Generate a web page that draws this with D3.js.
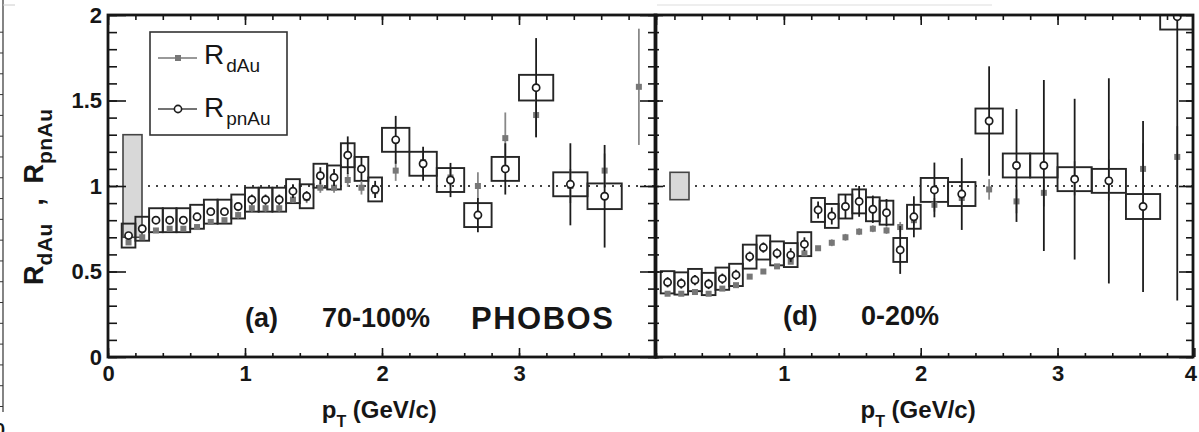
<!DOCTYPE html>
<html>
<head>
<meta charset="utf-8">
<script src="https://cdn.jsdelivr.net/npm/d3@7"></script>
<style>
  body { margin: 0; background: #fff; }
  svg { display: block; font-family: "Liberation Sans", Arial, Helvetica, sans-serif; }
</style>
</head>
<body>
<svg width="1199" height="432"></svg>
<script>
// pT bin edges (GeV/c), shared by both panels
var ptEdges = [0.1, 0.2, 0.3, 0.4, 0.5, 0.6, 0.7, 0.8, 0.9, 1.0, 1.1, 1.2, 1.3, 1.4, 1.5,
               1.6, 1.7, 1.8, 1.9, 2.0, 2.2, 2.4, 2.6, 2.8, 3.0, 3.25, 3.5, 3.75, 4.0];

// (a) 70-100%
var pnAuA    = [0.71, 0.75, 0.80, 0.80, 0.80, 0.82, 0.85, 0.85, 0.88, 0.92, 0.92, 0.92, 0.97, 0.94,
                1.06, 1.05, 1.18, 1.10, 0.98, 1.27, 1.13, 1.035, 0.83, 1.10, 1.575, 1.01, 0.94, null];
var pnAuAErr = [0.02, 0.02, 0.02, 0.02, 0.02, 0.02, 0.02, 0.02, 0.02, 0.03, 0.03, 0.03, 0.04, 0.03,
                0.05, 0.05, 0.11, 0.07, 0.05, 0.14, 0.10, 0.10, 0.10, 0.15, 0.29, 0.24, 0.30, null];
var pnAuASys = [0.07, 0.07, 0.07, 0.07, 0.07, 0.07, 0.07, 0.07, 0.07, 0.07, 0.07, 0.07, 0.07, 0.07,
                0.07, 0.07, 0.07, 0.07, 0.07, 0.07, 0.07, 0.07, 0.07, 0.07, 0.075, 0.07, 0.075, null];
var dAuA     = [0.67, 0.70, 0.74, 0.75, 0.75, 0.76, 0.79, 0.80, 0.83, 0.87, 0.87, 0.87, 0.92, 0.93,
                0.99, 0.99, 1.035, 0.99, 0.97, 1.09, 1.14, 1.05, 1.00, 1.28, 1.415, 1.00, 1.09, 1.58];
var dAuAErr  = [0.01, 0.01, 0.01, 0.01, 0.01, 0.01, 0.01, 0.01, 0.02, 0.02, 0.02, 0.02, 0.02, 0.03,
                0.03, 0.03, 0.04, 0.04, 0.04, 0.06, 0.06, 0.05, 0.08, 0.15, 0.13, 0.10, 0.10, 0.34];
var normA = 0.30;

// (d) 0-20%
var pnAuD    = [0.437, 0.43, 0.45, 0.427, 0.458, 0.48, 0.587, 0.64, 0.606, 0.596, 0.66, 0.86, 0.825, 0.88,
                0.91, 0.864, 0.844, 0.626, 0.82, 0.977, 0.953, 1.38, 1.12, 1.12, 1.04, 1.03, 0.88, 1.99];
var pnAuDErr = [0.03, 0.03, 0.03, 0.03, 0.03, 0.03, 0.03, 0.03, 0.03, 0.04, 0.04, 0.05, 0.05, 0.07,
                0.09, 0.08, 0.08, 0.14, 0.12, 0.16, 0.21, 0.32, 0.33, 0.50, 0.47, 0.60, 0.50, 1.66];
var pnAuDSys = [0.065, 0.065, 0.065, 0.065, 0.065, 0.065, 0.07, 0.07, 0.07, 0.07, 0.07, 0.07, 0.07, 0.07,
                0.07, 0.07, 0.07, 0.07, 0.07, 0.07, 0.07, 0.073, 0.07, 0.07, 0.07, 0.07, 0.073, 0.075];
var dAuD     = [0.37, 0.37, 0.38, 0.37, 0.40, 0.42, 0.47, 0.50, 0.53, 0.557, 0.606, 0.636, 0.668, 0.70,
                0.733, 0.75, 0.74, 0.76, 0.80, 0.89, 0.93, 0.98, 0.91, 0.96, 1.045, 1.035, 1.10, 1.17];
var dAuDErr  = [0.01, 0.01, 0.01, 0.01, 0.01, 0.01, 0.01, 0.01, 0.01, 0.01, 0.01, 0.01, 0.02, 0.02,
                0.02, 0.02, 0.02, 0.03, 0.03, 0.04, 0.05, 0.06, 0.07, 0.08, 0.10, 0.12, 0.15, 0.18];
var normD = 0.08;

var yMajorTicks = [0, 0.5, 1, 1.5, 2];

var svg = d3.select('svg'),
    y = d3.scaleLinear().domain([0, 2]).range([357, 15]),
    xA = d3.scaleLinear().domain([0, 4]).range([108, 656]),
    xD = d3.scaleLinear().domain([0.058, 3.99]).range([655, 1193]),
    fmt = d3.format('~g'),
    ink = '#161616';

var bins = ptEdges.slice(0, -1).map(function(lo, i) {
  return { lo: lo, hi: ptEdges[i + 1], mid: (lo + ptEdges[i + 1]) / 2 };
});

// decoration left over from the neighbouring figure at the page edge
var edge = d3.scaleLinear().domain([0, 18]).range([406, 31.7]);
svg.append('line').attr('x1', 3).attr('x2', 3).attr('y1', 0).attr('y2', 412)
   .attr('stroke', '#333').attr('stroke-width', 1.2);
svg.append('g').attr('transform', 'translate(3,0)')
   .call(d3.axisLeft(edge).ticks(18).tickSize(3).tickFormat(''))
   .call(function(g) { g.select('.domain').remove(); g.selectAll('line').attr('stroke', '#333'); });
svg.append('text').attr('x', -5).attr('y', 436).attr('font-size', 18).attr('font-weight', 'bold')
   .attr('fill', ink).text('0');
svg.append('line').attr('x1', 3).attr('x2', 15).attr('y1', 5).attr('y2', 5).attr('stroke', '#ccc');
svg.append('line').attr('x1', 657).attr('x2', 992).attr('y1', 5).attr('y2', 5).attr('stroke', '#ddd');

function drawPanel(id, x, pn, pnErr, pnSys, dA, dAErr, norm, xLabels, yLabels, leftMajor, rightMajor) {
  var x0 = x.range()[0], x1 = x.range()[1];
  var g = svg.append('g').attr('class', 'panel-' + id);

  svg.append('clipPath').attr('id', 'clip-' + id)
    .append('rect').attr('x', x0).attr('y', y(2)).attr('width', x1 - x0).attr('height', y(0) - y(2));

  var plot = g.append('g').attr('clip-path', 'url(#clip-' + id + ')');

  // reference line at 1
  plot.append('line')
      .attr('x1', x0).attr('x2', x1).attr('y1', y(1)).attr('y2', y(1))
      .attr('stroke', '#444').attr('stroke-width', 2).attr('stroke-dasharray', '2,6');

  // overall normalisation uncertainty
  plot.append('rect')
      .attr('x', x0 + 15).attr('width', 19)
      .attr('y', y(1 + norm)).attr('height', y(1 - norm) - y(1 + norm))
      .attr('fill', '#d8d8d8').attr('stroke', '#444').attr('stroke-width', 1.6);

  var rows = bins.map(function(b, i) {
    return { lo: b.lo, hi: b.hi, mid: b.mid, pn: pn[i], pnErr: pnErr[i], pnSys: pnSys[i], d: dA[i], dErr: dAErr[i] };
  });
  var withPn = rows.filter(function(r) { return r.pn != null; });

  // systematic boxes
  plot.selectAll('.sys').data(withPn).enter().append('rect')
      .attr('class', 'sys')
      .attr('x', function(d) { return x(d.lo); })
      .attr('width', function(d) { return x(d.hi) - x(d.lo); })
      .attr('y', function(d) { return y(d.pn + d.pnSys); })
      .attr('height', function(d) { return y(d.pn - d.pnSys) - y(d.pn + d.pnSys); })
      .attr('fill', 'none').attr('stroke', '#262626').attr('stroke-width', 1.9);

  // d+Au points
  plot.selectAll('.derr').data(rows).enter().append('line')
      .attr('class', 'derr')
      .attr('x1', function(d) { return x(d.mid); }).attr('x2', function(d) { return x(d.mid); })
      .attr('y1', function(d) { return y(d.d - d.dErr); }).attr('y2', function(d) { return y(d.d + d.dErr); })
      .attr('stroke', '#888').attr('stroke-width', 1.8);
  plot.selectAll('.dpt').data(rows).enter().append('rect')
      .attr('class', 'dpt')
      .attr('x', function(d) { return x(d.mid) - 3; }).attr('y', function(d) { return y(d.d) - 3; })
      .attr('width', 6).attr('height', 6).attr('fill', '#777');

  // p+Au / n+Au points
  plot.selectAll('.perr').data(withPn).enter().append('line')
      .attr('class', 'perr')
      .attr('x1', function(d) { return x(d.mid); }).attr('x2', function(d) { return x(d.mid); })
      .attr('y1', function(d) { return y(d.pn - d.pnErr); }).attr('y2', function(d) { return y(d.pn + d.pnErr); })
      .attr('stroke', '#1c1c1c').attr('stroke-width', 1.8);
  plot.selectAll('.ppt').data(withPn).enter().append('circle')
      .attr('class', 'ppt')
      .attr('cx', function(d) { return x(d.mid); }).attr('cy', function(d) { return y(d.pn); })
      .attr('r', 3.6).attr('fill', '#fff').attr('stroke', '#1c1c1c').attr('stroke-width', 1.7);

  // axes: ticks point inward
  function clean(sel) {
    sel.select('.domain').remove();
    sel.selectAll('line').attr('stroke', ink).attr('stroke-width', 1.6);
    sel.selectAll('text').attr('fill', ink).attr('font-size', 22).attr('font-weight', 'bold')
       .attr('font-family', '"Liberation Sans", Arial, sans-serif');
  }
  g.append('g').attr('transform', 'translate(0,' + y(0) + ')')
   .call(d3.axisBottom(x).ticks(20).tickSize(-4).tickFormat('')).call(clean);
  g.append('g').attr('transform', 'translate(0,' + y(0) + ')')
   .call(d3.axisBottom(x).tickValues(xLabels).tickSize(-9).tickPadding(8).tickFormat(fmt)).call(clean)
   .selectAll('text').filter(function(d) { return d === 4; }).attr('dx', -4);
  g.append('g').attr('transform', 'translate(0,' + y(2) + ')')
   .call(d3.axisTop(x).ticks(20).tickSize(-5).tickFormat('')).call(clean);
  g.append('g').attr('transform', 'translate(0,' + y(2) + ')')
   .call(d3.axisTop(x).ticks(4).tickSize(-10).tickFormat('')).call(clean);

  g.append('g').attr('transform', 'translate(' + x0 + ',0)')
   .call(d3.axisLeft(y).ticks(20).tickSize(-leftMajor / 2).tickFormat('')).call(clean);
  g.append('g').attr('transform', 'translate(' + x0 + ',0)')
   .call(d3.axisLeft(y).tickValues(yMajorTicks).tickSize(-leftMajor).tickPadding(6)
           .tickFormat(yLabels ? fmt : '')).call(clean);
  g.append('g').attr('transform', 'translate(' + x1 + ',0)')
   .call(d3.axisRight(y).ticks(20).tickSize(-rightMajor / 2).tickFormat('')).call(clean);
  g.append('g').attr('transform', 'translate(' + x1 + ',0)')
   .call(d3.axisRight(y).tickValues(yMajorTicks).tickSize(-rightMajor).tickFormat('')).call(clean);

  g.selectAll('text').filter(function() { return this.textContent === ''; }).remove();

  // frame
  g.append('rect')
   .attr('x', x0).attr('y', y(2)).attr('width', x1 - x0).attr('height', y(0) - y(2))
   .attr('fill', 'none').attr('stroke', ink).attr('stroke-width', 2.8);

  // x title
  var t = g.append('text').attr('x', x(1.56)).attr('y', 418)
           .attr('font-size', 24).attr('font-weight', 'bold').attr('fill', ink);
  t.append('tspan').text('p');
  t.append('tspan').attr('font-size', 16).attr('dy', 9).text('T');
  t.append('tspan').attr('dy', -9).text(' (GeV/c)');
  return g;
}

var gA = drawPanel('a', xA, pnAuA, pnAuAErr, pnAuASys, dAuA, dAuAErr, normA, [0, 1, 2, 3], true, 18, 16);
var gD = drawPanel('d', xD, pnAuD, pnAuDErr, pnAuDSys, dAuD, dAuDErr, normD, [1, 2, 3, 4], false, 8, 14);

// panel labels
function label(txt, x, yy, size) {
  return svg.append('text').attr('x', x).attr('y', yy).attr('font-size', size)
            .attr('font-weight', 'bold').attr('fill', ink).text(txt);
}
label('(a)', 245, 327, 27);
label('70-100%', 322, 327, 27);
label('PHOBOS', 471, 329, 31).attr('letter-spacing', 1.5);
label('(d)', 783, 325, 27);
label('0-20%', 861, 325, 27);

// y title, three pieces stacked along the rotated baseline
function yTitlePart(cy, main, sub) {
  var t = svg.append('text')
      .attr('transform', 'translate(43,' + cy + ') rotate(-90)')
      .attr('text-anchor', 'middle').attr('font-size', 27).attr('font-weight', 'bold').attr('fill', ink);
  t.append('tspan').text(main);
  if (sub) t.append('tspan').attr('font-size', 21).attr('dy', 9).attr('letter-spacing', 0.5).text(sub);
  return t;
}
yTitlePart(254, 'R', 'dAu');
yTitlePart(202, ',', null);
yTitlePart(146, 'R', 'pnAu');

// legend
var leg = svg.append('g');
leg.append('rect').attr('x', 150).attr('y', 32).attr('width', 137).attr('height', 103)
   .attr('fill', '#fff').attr('stroke', '#333').attr('stroke-width', 1.6);
var legItems = [
  { name: 'dAu', cy: 58, base: 64 },
  { name: 'pnAu', cy: 109, base: 117 }
];
legItems.forEach(function(it, i) {
  leg.append('line').attr('x1', 158).attr('x2', 197).attr('y1', it.cy).attr('y2', it.cy)
     .attr('stroke', i === 0 ? '#777' : '#444').attr('stroke-width', 1.6);
  if (i === 0) {
    leg.append('rect').attr('x', 175).attr('y', it.cy - 3).attr('width', 6).attr('height', 6).attr('fill', '#777');
  } else {
    leg.append('circle').attr('cx', 178).attr('cy', it.cy).attr('r', 3.6)
       .attr('fill', '#fff').attr('stroke', '#1c1c1c').attr('stroke-width', 1.6);
  }
  var lt = leg.append('text').attr('x', 204).attr('y', it.base).attr('font-size', 28).attr('fill', ink);
  lt.append('tspan').text('R');
  lt.append('tspan').attr('font-size', 19).attr('dx', 2).attr('dy', 8).text(it.name);
});
</script>
</body>
</html>
